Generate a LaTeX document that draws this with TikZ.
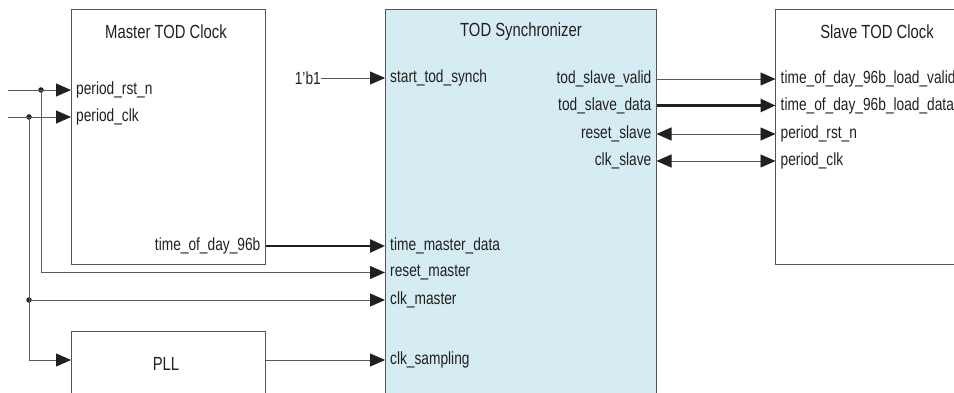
\documentclass[tikz,border=0pt]{standalone}
\usepackage{fontspec}
\setmainfont{Liberation Sans}[FakeStretch=0.78]
\usetikzlibrary{arrows.meta}
\definecolor{linegray}{HTML}{5A5A5A}
\definecolor{boxgray}{HTML}{555555}
\definecolor{tipblack}{HTML}{231F20}
\definecolor{syncfill}{HTML}{D5ECF3}
\tikzset{
  blk/.style={draw=boxgray, line width=0.9pt},
  ttl/.style={font=\fontsize{19}{22}\selectfont, text=tipblack},
  lbl/.style={font=\fontsize{17.6}{20}\selectfont, text=tipblack, inner sep=0pt},
  wire/.style={draw=linegray, line width=0.9pt},
  bus/.style={draw=tipblack, line width=2.6pt},
  tip/.style={-{Triangle[length=15pt,width=13pt,color=tipblack]}},
  bitip/.style={{Triangle[length=15pt,width=13pt,color=tipblack]}-{Triangle[length=15pt,width=13pt,color=tipblack]}},
  junction/.style={circle, fill=tipblack, inner sep=0pt, minimum size=5.5pt},
}
\begin{document}
\begin{tikzpicture}[x=1pt,y=-1pt]
\useasboundingbox (0,0) rectangle (954,393);
% boxes
\draw[blk] (71,9) rectangle (265.5,264.5);
\node[ttl] (mtitle) at (166,32) {Master TOD Clock};
\draw[blk] (71,331) rectangle (265.5,400);
\node[ttl] (pll) at (166,364) {PLL};
\draw[blk, fill=syncfill] (385,9) rectangle (656.5,400);
\node[ttl] (stitle) at (521,32) {TOD Synchronizer};
\draw[blk] (775.5,9) rectangle (960,264.5);
\node[ttl] (sltitle) at (877,32) {Slave TOD Clock};

% port coordinates
\coordinate (m_rst) at (71,90);
\coordinate (m_clk) at (71,117);
\coordinate (m_tod) at (265.5,246);
\coordinate (p_in) at (71,360);
\coordinate (p_out) at (265.5,360);
\coordinate (s_start) at (385,78);
\coordinate (s_tmd) at (385,246);
\coordinate (s_rstm) at (385,272.5);
\coordinate (s_clkm) at (385,300);
\coordinate (s_samp) at (385,360);
\coordinate (s_valid) at (656.5,79);
\coordinate (s_data) at (656.5,105.5);
\coordinate (s_rsts) at (656.5,134);
\coordinate (s_clks) at (656.5,161);
\coordinate (l_valid) at (775.5,79);
\coordinate (l_data) at (775.5,105.5);
\coordinate (l_rst) at (775.5,134);
\coordinate (l_clk) at (775.5,161);
\coordinate (in_rst) at (8,90);
\coordinate (in_clk) at (8,117);

% labels
\node[lbl, anchor=west] at ([xshift=5pt]m_rst) {period\_rst\_n};
\node[lbl, anchor=west] at ([xshift=5pt]m_clk) {period\_clk};
\node[lbl, anchor=east] at ([xshift=-5pt]m_tod) {time\_of\_day\_96b};
\node[lbl, anchor=west] at ([xshift=5pt]s_start) {start\_tod\_synch};
\node[lbl, anchor=west] at ([xshift=5pt]s_tmd) {time\_master\_data};
\node[lbl, anchor=west] at ([xshift=5pt]s_rstm) {reset\_master};
\node[lbl, anchor=west] at ([xshift=5pt]s_clkm) {clk\_master};
\node[lbl, anchor=west] at ([xshift=5pt]s_samp) {clk\_sampling};
\node[lbl, anchor=east] at ([xshift=-5pt]s_valid) {tod\_slave\_valid};
\node[lbl, anchor=east] at ([xshift=-5pt]s_data) {tod\_slave\_data};
\node[lbl, anchor=east] at ([xshift=-5pt]s_rsts) {reset\_slave};
\node[lbl, anchor=east] at ([xshift=-5pt]s_clks) {clk\_slave};
\node[lbl, anchor=west] at ([xshift=5pt]l_valid) {time\_of\_day\_96b\_load\_valid};
\node[lbl, anchor=west] at ([xshift=5pt]l_data) {time\_of\_day\_96b\_load\_data};
\node[lbl, anchor=west] at ([xshift=5pt]l_rst) {period\_rst\_n};
\node[lbl, anchor=west] at ([xshift=5pt]l_clk) {period\_clk};
\node[lbl, anchor=east] (const) at (321,78) {1’b1};

% junctions
\node[junction] (j1) at (41,90) {};
\node[junction] (j2) at (29,117) {};
\node[junction] (j3) at (29,300) {};

% wires
\draw[wire, tip] (in_rst) -- (m_rst);
\draw[wire, tip] (in_clk) -- (m_clk);
\draw[wire, tip] (j1.center) -- (41,272.5) -- (s_rstm);
\draw[wire] (j2.center) -- (j3.center);
\draw[wire, tip] (j3.center) -- (29,360) -- (p_in);
\draw[wire, tip] (j3.center) -- (s_clkm);
\draw[bus, tip] (m_tod) -- (s_tmd);
\draw[wire, tip] (p_out) -- (s_samp);
\draw[wire, tip] (const.east) -- (s_start);
\draw[wire, tip] (s_valid) -- (l_valid);
\draw[bus, tip] (s_data) -- (l_data);
\draw[wire, bitip] (s_rsts) -- (l_rst);
\draw[wire, bitip] (s_clks) -- (l_clk);
\end{tikzpicture}
\end{document}
